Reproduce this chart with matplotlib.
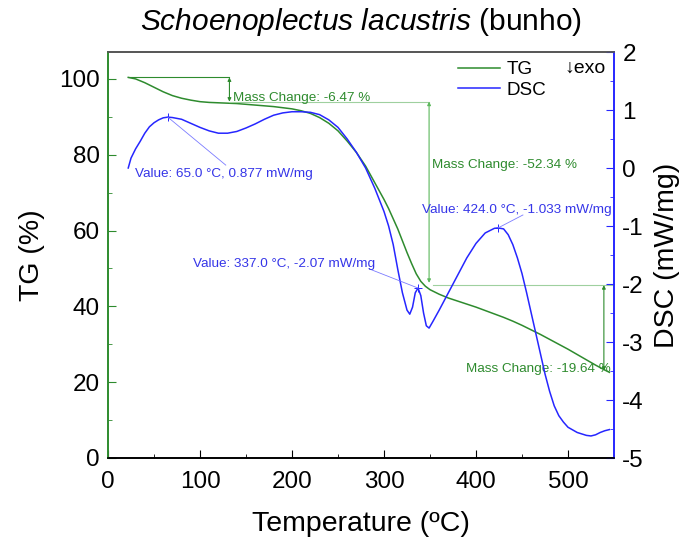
import matplotlib
matplotlib.use("Agg")
import matplotlib.pyplot as plt
from matplotlib.ticker import MultipleLocator

plt.rcParams['font.family'] = ['Liberation Sans', 'DejaVu Sans']
plt.rcParams['mathtext.fontset'] = 'custom'
plt.rcParams['mathtext.it'] = 'Liberation Sans:italic'
plt.rcParams['mathtext.rm'] = 'Liberation Sans'
plt.rcParams['axes.unicode_minus'] = False

# ---- data ----
tg_temp = [22, 30, 40, 50, 60, 70, 80, 90, 100, 110, 120, 130, 140, 150, 160, 170, 180, 190,
           200, 210, 220, 230, 240, 250, 260, 270, 280, 290, 300, 305, 310, 315, 320, 325, 330,
           335, 340, 345, 350, 360, 370, 380, 390, 400, 410, 420, 430, 440, 450, 460, 470, 480,
           490, 500, 510, 520, 530, 540, 545]
tg_val = [100.4, 100.0, 99.0, 97.8, 96.6, 95.6, 94.9, 94.4, 94.0, 93.8, 93.7, 93.6, 93.5, 93.3,
          93.1, 92.9, 92.7, 92.4, 92.1, 91.6, 90.9, 89.8, 88.3, 86.3, 83.6, 80.6, 77.0, 72.6,
          68.2, 65.8, 63.1, 60.4, 57.3, 54.2, 51.3, 48.6, 46.6, 45.3, 44.4, 43.2, 42.2, 41.4,
          40.6, 39.8, 38.9, 38.0, 37.1, 36.1, 35.0, 33.8, 32.6, 31.3, 30.0, 28.7, 27.3, 25.9,
          24.5, 23.2, 22.6]

dsc_temp = [22, 25, 30, 35, 40, 45, 50, 55, 60, 65, 70, 80, 90, 100, 110, 120, 130, 140, 150,
            160, 170, 180, 190, 200, 210, 220, 230, 240, 250, 260, 270, 280, 290, 300, 305, 310,
            315, 320, 325, 328, 331, 334, 337, 340, 343, 346, 349, 353, 360, 370, 380, 390, 400,
            410, 420, 424, 430, 435, 440, 445, 450, 455, 460, 465, 470, 475, 480, 485, 490, 495,
            500, 510, 520, 525, 530, 535, 540, 545]
dsc_val = [0.0, 0.17, 0.33, 0.46, 0.6, 0.71, 0.78, 0.83, 0.865, 0.877, 0.87, 0.84, 0.77, 0.70,
           0.64, 0.60, 0.60, 0.63, 0.69, 0.76, 0.84, 0.91, 0.95, 0.97, 0.97, 0.96, 0.92, 0.83,
           0.70, 0.50, 0.27, 0.0, -0.35, -0.75, -1.0, -1.32, -1.75, -2.15, -2.45, -2.52, -2.40,
           -2.15, -2.07, -2.2, -2.5, -2.72, -2.76, -2.65, -2.45, -2.15, -1.85, -1.55, -1.3,
           -1.12, -1.04, -1.033, -1.05, -1.15, -1.32, -1.55, -1.82, -2.15, -2.5, -2.85, -3.2,
           -3.55, -3.85, -4.1, -4.27, -4.38, -4.47, -4.56, -4.61, -4.62, -4.6, -4.56, -4.53, -4.51]

# mass-change steps
mc_start = [22, 132, 353]
mc_arrow = [132, 349, 539]
mc_end_line = [132, 349, 548]
mc_from = [100.4, 94.0, 45.6]
mc_to = [94.0, 46.2, 23.0]
mc_labels = ["Mass Change: -6.47 %", "Mass Change: -52.34 %", "Mass Change: -19.64 %"]

peak_T = [65.0, 337.0, 424.0]
peak_v = [0.877, -2.07, -1.033]
peak_labels = ["Value: 65.0 °C, 0.877 mW/mg", "Value: 337.0 °C, -2.07 mW/mg",
               "Value: 424.0 °C, -1.033 mW/mg"]

GREEN = '#2e8b2e'
LGREEN = '#9fd09f'
BLUE = '#2626ff'
TBLUE = '#3535e8'

W, H = 686, 545
fig = plt.figure(figsize=(6.86, 5.45), dpi=100)
ax = fig.add_axes([108 / W, 1 - 458 / H, (614 - 108) / W, (458 - 52) / H])
ax2 = ax.twinx()

ax.set_xlim(0, 550)
ax.set_ylim(0, 107.1)
ax2.set_ylim(-5, 2)

l1, = ax.plot(tg_temp, tg_val, color=GREEN, lw=1.1, label='TG')
l2, = ax2.plot(dsc_temp, dsc_val, color=BLUE, lw=1.1, label='DSC')

# mass change annotations
for i in range(3):
    ax.plot([mc_start[i], mc_end_line[i]], [mc_from[i], mc_from[i]],
            color=LGREEN if i else GREEN, lw=0.8)
    ax.annotate('', xy=(mc_arrow[i], mc_to[i]), xytext=(mc_arrow[i], mc_from[i]),
                arrowprops=dict(arrowstyle='<|-|>', color=GREEN if i != 1 else '#5cb85c',
                                lw=0.8, mutation_scale=5, shrinkA=0, shrinkB=0))

FS = 9.7
ax.text(136, 94.3, mc_labels[0], color=GREEN, fontsize=FS, ha='left', va='baseline')
ax.text(352, 77.4, mc_labels[1], color=GREEN, fontsize=FS, ha='left', va='center')
ax.text(546, 23.5, mc_labels[2], color=GREEN, fontsize=FS, ha='right', va='center')

# peak annotations
txt_pos = [(29, -0.1), (290, -1.65), (341, -0.72)]
ha_list = ['left', 'right', 'left']
lead_end = [(128, 0.05), (284, -1.74), (451, -0.81)]
for i in range(3):
    ax2.plot(peak_T[i], peak_v[i], marker='+', color=BLUE, ms=6, mew=0.7)
    ax2.plot([peak_T[i], lead_end[i][0]], [peak_v[i], lead_end[i][1]], color='#7b7bff', lw=0.6)
    ax2.text(txt_pos[i][0], txt_pos[i][1], peak_labels[i], color=TBLUE, fontsize=FS,
             ha=ha_list[i], va='center')

# axes styling
ax.xaxis.set_major_locator(MultipleLocator(100))
ax.xaxis.set_minor_locator(MultipleLocator(50))
ax.yaxis.set_major_locator(MultipleLocator(20))
ax.yaxis.set_minor_locator(MultipleLocator(10))
ax2.yaxis.set_major_locator(MultipleLocator(1))
ax2.yaxis.set_minor_locator(MultipleLocator(0.5))

TS = 17.5
ax.tick_params(axis='x', which='both', direction='in', colors='black', labelsize=TS, pad=9)
ax.tick_params(axis='x', which='major', length=6)
ax.tick_params(axis='x', which='minor', length=3)
ax.tick_params(axis='y', which='both', direction='in', color=GREEN, labelcolor='black',
               labelsize=TS, pad=6)
ax.tick_params(axis='y', which='major', length=6)
ax.tick_params(axis='y', which='minor', length=3)
ax2.tick_params(axis='y', which='both', direction='in', color=BLUE, labelcolor='black',
                labelsize=TS, pad=6)
ax2.tick_params(axis='y', which='major', length=6)
ax2.tick_params(axis='y', which='minor', length=3)

for a in (ax, ax2):
    a.spines['left'].set_color(GREEN)
    a.spines['right'].set_color(BLUE)
    a.spines['top'].set_color('#555555')
    a.spines['bottom'].set_color('black')
    for s in a.spines.values():
        s.set_linewidth(1.2)

LS = 20.5
ax.set_xlabel('Temperature (ºC)', fontsize=LS, labelpad=13)
ax.set_ylabel('TG (%)', fontsize=LS, labelpad=10)
ax2.set_ylabel('DSC (mW/mg)', fontsize=LS, labelpad=7)

leg = ax2.legend(handles=[l1, l2], loc='upper left',
                 bbox_to_anchor=(458 / W, 1 - 61 / H), bbox_transform=fig.transFigure,
                 frameon=False, fontsize=13.6, handlelength=2.2, labelspacing=0.17,
                 handletextpad=0.37, borderpad=0, borderaxespad=0)
fig.text(606 / W, 1 - 68 / H, '↓exo', ha='right', va='center', fontsize=14)

fig.text(361 / W, 1 - 22 / H, r'$\it{Schoenoplectus\ lacustris}$ (bunho)', ha='center',
         va='center', fontsize=21.5)

fig.savefig('out.png', dpi=100)
